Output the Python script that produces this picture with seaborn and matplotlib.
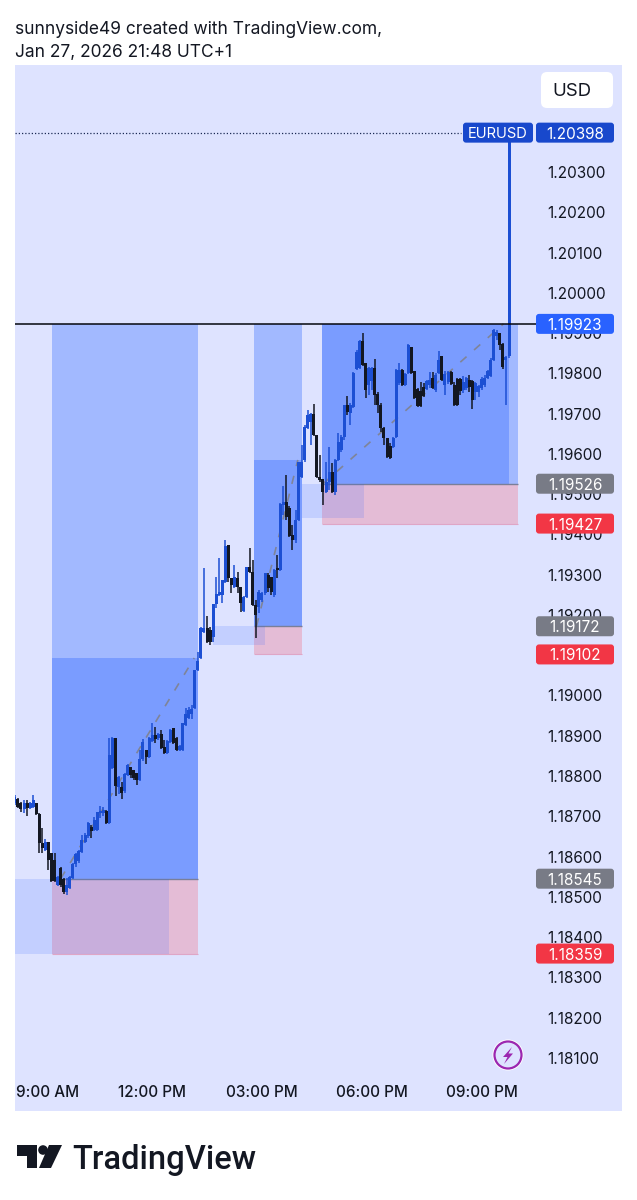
import matplotlib
matplotlib.use("Agg")
import matplotlib.pyplot as plt
import numpy as np
import seaborn as sns
from matplotlib.patches import Circle, FancyBboxPatch, Polygon, Rectangle
from matplotlib.transforms import IdentityTransform, ScaledTranslation

# candles are 5 minutes apart, prices kept as points above 1.18000
BASE_PRICE = 1.18
FIRST_HOUR = 8.25
STEP_HOURS = 1 / 12

high_pts = [
    753, 745, 736, 741, 741, 736, 753, 733, 708, 671,
    644, 636, 609, 609, 552, 574, 547, 547, 552, 584,
    609, 617, 654, 659, 686, 678, 698, 711, 726, 723,
    716, 895, 897, 895, 800, 785, 808, 830, 822, 815,
    808, 865, 892, 865, 897, 932, 922, 907, 914, 890,
    890, 917, 919, 897, 877, 932, 969, 972, 977, 1063,
    1108, 1170, 1317, 1197, 1170, 1227, 1294, 1341, 1287, 1386,
    1374, 1292, 1324, 1307, 1269, 1247, 1319, 1366, 1336, 1237,
    1262, 1257, 1304, 1304, 1294, 1314, 1349, 1478, 1520, 1548,
    1471, 1423, 1461, 1580, 1622, 1672, 1709, 1702, 1724, 1647,
    1597, 1538, 1580, 1617, 1577, 1587, 1652, 1647, 1721, 1744,
    1726, 1803, 1858, 1883, 1900, 1826, 1816, 1816, 1836, 1754,
    1726, 1667, 1639, 1627, 1642, 1811, 1826, 1811, 1801, 1873,
    1865, 1806, 1764, 1779, 1776, 1783, 1803, 1803, 1801, 1855,
    1843, 1806, 1806, 1806, 1779, 1788, 1788, 1793, 1791, 1796,
    1783, 1779, 1771, 1791, 1796, 1808, 1838, 1910, 1908, 1900,
    1875, 1843, 2398,
]
low_pts = [
    728, 721, 711, 708, 701, 718, 721, 703, 609, 609,
    614, 567, 537, 537, 527, 524, 507, 505, 519, 544,
    574, 584, 609, 634, 646, 646, 664, 664, 696, 701,
    681, 681, 818, 750, 755, 743, 758, 800, 795, 790,
    778, 788, 837, 830, 845, 885, 882, 890, 867, 855,
    855, 882, 880, 862, 862, 862, 924, 942, 942, 967,
    1061, 1091, 1155, 1130, 1125, 1133, 1217, 1247, 1230, 1279,
    1282, 1255, 1267, 1255, 1207, 1207, 1242, 1304, 1222, 1143,
    1205, 1232, 1250, 1257, 1250, 1245, 1292, 1309, 1448, 1436,
    1394, 1361, 1379, 1433, 1540, 1580, 1662, 1622, 1644, 1540,
    1530, 1473, 1503, 1510, 1503, 1498, 1582, 1605, 1634, 1697,
    1672, 1714, 1808, 1811, 1818, 1739, 1746, 1759, 1721, 1702,
    1654, 1622, 1590, 1587, 1615, 1639, 1771, 1769, 1769, 1798,
    1798, 1736, 1716, 1716, 1741, 1759, 1764, 1761, 1754, 1798,
    1781, 1746, 1774, 1771, 1719, 1719, 1746, 1751, 1759, 1754,
    1711, 1734, 1741, 1759, 1766, 1786, 1791, 1831, 1883, 1858,
    1811, 1721, 1838,
]
open_pts = [
    733, 743, 733, 718, 733, 721, 723, 733, 706, 634,
    617, 636, 609, 592, 529, 572, 544, 512, 522, 547,
    582, 589, 611, 636, 651, 673, 666, 666, 708, 708,
    713, 684, 820, 895, 773, 773, 763, 803, 822, 815,
    808, 790, 842, 865, 847, 887, 902, 895, 904, 872,
    857, 885, 919, 895, 865, 865, 927, 944, 954, 969,
    1063, 1093, 1158, 1168, 1163, 1145, 1227, 1250, 1250, 1282,
    1374, 1292, 1269, 1292, 1269, 1210, 1245, 1319, 1307, 1225,
    1220, 1237, 1255, 1299, 1294, 1250, 1317, 1312, 1473, 1480,
    1466, 1399, 1386, 1436, 1543, 1585, 1664, 1679, 1699, 1647,
    1543, 1538, 1505, 1530, 1555, 1505, 1585, 1610, 1642, 1721,
    1702, 1716, 1811, 1813, 1880, 1826, 1771, 1781, 1813, 1749,
    1721, 1664, 1639, 1620, 1617, 1642, 1776, 1808, 1771, 1801,
    1865, 1806, 1761, 1756, 1766, 1761, 1771, 1788, 1759, 1801,
    1843, 1771, 1779, 1803, 1771, 1786, 1786, 1759, 1764, 1783,
    1781, 1754, 1754, 1764, 1771, 1788, 1793, 1833, 1893, 1900,
    1873, 1833, 1843,
]
close_pts = [
    748, 723, 718, 733, 721, 733, 741, 706, 634, 621,
    636, 592, 539, 539, 549, 529, 512, 529, 549, 582,
    606, 614, 641, 654, 684, 664, 691, 711, 713, 716,
    684, 852, 895, 775, 798, 758, 805, 828, 803, 795,
    790, 842, 885, 847, 895, 902, 892, 904, 870, 857,
    887, 914, 882, 865, 875, 932, 954, 964, 967, 1063,
    1086, 1168, 1168, 1133, 1133, 1227, 1252, 1257, 1287, 1371,
    1292, 1274, 1294, 1269, 1230, 1245, 1319, 1307, 1225, 1200,
    1257, 1255, 1304, 1267, 1257, 1312, 1312, 1476, 1480, 1443,
    1396, 1386, 1436, 1580, 1580, 1667, 1697, 1699, 1647, 1543,
    1535, 1505, 1530, 1555, 1505, 1585, 1630, 1642, 1721, 1704,
    1721, 1801, 1853, 1880, 1821, 1759, 1813, 1813, 1746, 1721,
    1664, 1639, 1592, 1590, 1639, 1808, 1808, 1771, 1798, 1870,
    1801, 1739, 1719, 1719, 1744, 1781, 1783, 1764, 1796, 1833,
    1783, 1798, 1803, 1774, 1721, 1721, 1756, 1779, 1788, 1766,
    1734, 1776, 1769, 1786, 1788, 1806, 1833, 1908, 1903, 1870,
    1816, 1841, 2398,
]

# long position boxes: start, end, target, entry, profit top, stop
position_start = [9.27, 14.78, 16.64]
position_end = [13.25, 16.083, 22.0]
position_target = [1.19923, 1.19923, 1.19923]
position_fill_top = [1.19093, 1.19585, 1.19923]
position_entry = [1.18545, 1.19172, 1.19526]
position_stop = [1.18359, 1.19102, 1.19427]
fill_end = [13.25, 16.083, 21.75]

# pale zones behind the candles
zone_start = [8.0, 13.667, 16.083]
zone_end = [12.47, 15.083, 17.8]
zone_top = [1.18545, 1.19172, 1.19526]
zone_bottom = [1.18359, 1.19125, 1.19440]

# dashed path of each position
path_x = [[9.5, 13.15], [14.85, 15.98], [16.67, 21.6]]
path_y = [[1.18545, 1.19093], [1.19172, 1.19585], [1.19526, 1.19923]]

price_ticks = [1.181 + 0.001 * i for i in range(23)]
hour_ticks = [9, 12, 15, 18, 21]
hour_labels = ["9:00 AM", "12:00 PM", "03:00 PM", "06:00 PM", "09:00 PM"]

price_tags = [1.19923, 1.19526, 1.19427, 1.19172, 1.19102, 1.18545, 1.18359]
tag_colors = ["#2962ff", "#787b86", "#f23645", "#787b86", "#f23645", "#787b86", "#f23645"]
LAST_PRICE = 1.20398

BG = "#dee3ff"
LIGHT = "#a2b9ff"
DEEP = "#7a9cff"
PINK = "#e4bcd6"
UP = "#1c4fd3"
DOWN = "#131722"
NAVY = "#1848cc"

sns.set_theme(style="white")
plt.rcParams["font.family"] = ["Inter", "DejaVu Sans"]

fig = plt.figure(figsize=(6.37, 12), dpi=100, facecolor="white")
ax = fig.add_axes([15 / 637, 1 - 1111 / 1200, 607 / 637, 1046 / 1200])
ax.set_facecolor(BG)
sns.despine(ax=ax, left=True, bottom=True, right=True, top=True)

ax.set_xlim(8.253, 24.837)
ax.set_ylim(1.17968, 1.20566)


def to_price(pts):
    return BASE_PRICE + np.array(pts) / 1e5


def span(x0, x1, y0, y1, color, **kw):
    ax.add_patch(Rectangle((x0, y0), x1 - x0, y1 - y0, facecolor=color, edgecolor="none", **kw))


for i in range(3):
    span(position_start[i], position_end[i], position_entry[i], position_target[i], LIGHT, zorder=1)
    span(position_start[i], fill_end[i], position_entry[i], position_fill_top[i], DEEP, zorder=1.1)
    span(position_start[i], position_end[i], position_stop[i], position_entry[i], PINK, zorder=1.1)
    ax.hlines(position_entry[i], position_start[i], position_end[i], color="#7a7f99", lw=1, zorder=1.2)
    ax.hlines(position_stop[i], position_start[i], position_end[i], color="#dfa6c6", lw=0.8, zorder=1.2)
for i in range(3):
    span(zone_start[i], zone_end[i], zone_bottom[i], zone_top[i], "#2962ff", alpha=0.15, zorder=1.3)

for xs, ys in zip(path_x, path_y):
    sns.lineplot(x=xs, y=ys, ax=ax, color="#7f8498", lw=1.2, linestyle=(0, (5, 6)),
                 estimator=None, errorbar=None, zorder=2)

hours = FIRST_HOUR + np.arange(len(open_pts)) * STEP_HOURS
opens, highs, lows, closes = map(to_price, (open_pts, high_pts, low_pts, close_pts))
colors = [UP if c >= o else DOWN for o, c in zip(opens, closes)]
ax.vlines(hours, lows, highs, colors=colors, lw=1.1, zorder=3)
ax.bar(hours, np.abs(closes - opens), bottom=np.minimum(opens, closes), width=0.082,
       color=colors, linewidth=0, zorder=3)

# target line and last price line
ax.hlines(1.19923, 8.253, 22.5, color="#05070d", lw=1.1, zorder=4)
ax.hlines(LAST_PRICE, 8.253, 20.45, color="#1b2a55", lw=0.9, linestyle=(0, (1, 1.6)), zorder=2)

ax.set_yticks(price_ticks, [f"{p:.5f}" for p in price_ticks])
ax.set_xticks(hour_ticks, hour_labels)
ax.yaxis.tick_right()
ax.tick_params(axis="y", length=0, pad=-53.5, labelsize=11, labelcolor="#131722")
ax.tick_params(axis="x", length=0, pad=-18.5, labelsize=11, labelcolor="#131722")
for lab in ax.get_xticklabels():
    lab.set_fontweight(500)
# first label is pushed right so it stays in the panel
first = ax.get_xticklabels()[0]
first.set_transform(first.get_transform() + ScaledTranslation(5 / 100, 0, fig.dpi_scale_trans))

px = IdentityTransform()


def py(y):
    return 1200 - y


def tag(x0, x1, yc, color, text, size=11):
    h = 20
    box = FancyBboxPatch((x0 + 2, yc - h / 2 + 2), x1 - x0 - 4, h - 4, boxstyle="round,pad=2,rounding_size=3",
                         facecolor=color, edgecolor="none", transform=px, zorder=6)
    fig.add_artist(box)
    fig.text((x0 + x1) / 2 / 637, yc / 1200, text, color="white", fontsize=size,
             ha="center", va="center_baseline", zorder=7)


def price_y(price):
    return ax.transData.transform((10, price))[1]


for price, col in zip(price_tags, tag_colors):
    tag(536, 614, price_y(price), col, f"{price:.5f}")
tag(536, 614, price_y(LAST_PRICE), NAVY, f"{LAST_PRICE:.5f}")
tag(463, 533, price_y(LAST_PRICE), NAVY, "EURUSD", size=10.6)

# currency button
fig.add_artist(FancyBboxPatch((547, py(102)), 60, 24, boxstyle="round,pad=6,rounding_size=6",
                              facecolor="white", edgecolor="none", transform=px, zorder=6))
fig.text(572 / 637, py(90) / 1200, "USD", color="#131722", fontsize=13.4, ha="center", va="center_baseline", zorder=7)

# lightning badge
fig.add_artist(Circle((508, py(1055)), 15.5, facecolor="white", edgecolor="none", transform=px, zorder=6))
fig.add_artist(Circle((508, py(1055)), 13.5, facecolor=BG, edgecolor="#9c27b0", lw=1.6, transform=px, zorder=6))
bolt = [(512, 1047), (503, 1057), (507.5, 1057), (504, 1064), (513, 1053.5), (508.5, 1053.5)]
fig.add_artist(Polygon([(x, py(y)) for x, y in bolt], closed=True, facecolor="#9c27b0", edgecolor="none",
                       transform=px, zorder=7))

# header
fig.text(15 / 637, py(27) / 1200, "sunnyside49 created with TradingView.com,", color="#131722",
         fontsize=12.5, ha="left", va="center_baseline")
fig.text(15 / 637, py(51) / 1200, "Jan 27, 2026 21:48 UTC+1", color="#131722",
         fontsize=12.5, ha="left", va="center_baseline")

# footer logo
logo_t = [(17, 1145), (37, 1145), (37, 1168), (27, 1168), (27, 1156), (17, 1156)]
logo_slash = [(49, 1145), (62, 1145), (51, 1168), (39, 1168)]
for shape in (logo_t, logo_slash):
    fig.add_artist(Polygon([(x, py(y)) for x, y in shape], closed=True, facecolor="#131722",
                           edgecolor="none", transform=px))
fig.add_artist(Circle((43, py(1150)), 4.8, facecolor="#131722", edgecolor="none", transform=px))
fig.text(72 / 637, py(1157) / 1200, "TradingView", color="#131722", fontsize=23.5, fontweight=500,
         family="Roboto", ha="left", va="center_baseline")

fig.savefig("out.png", dpi=100, facecolor="white")
